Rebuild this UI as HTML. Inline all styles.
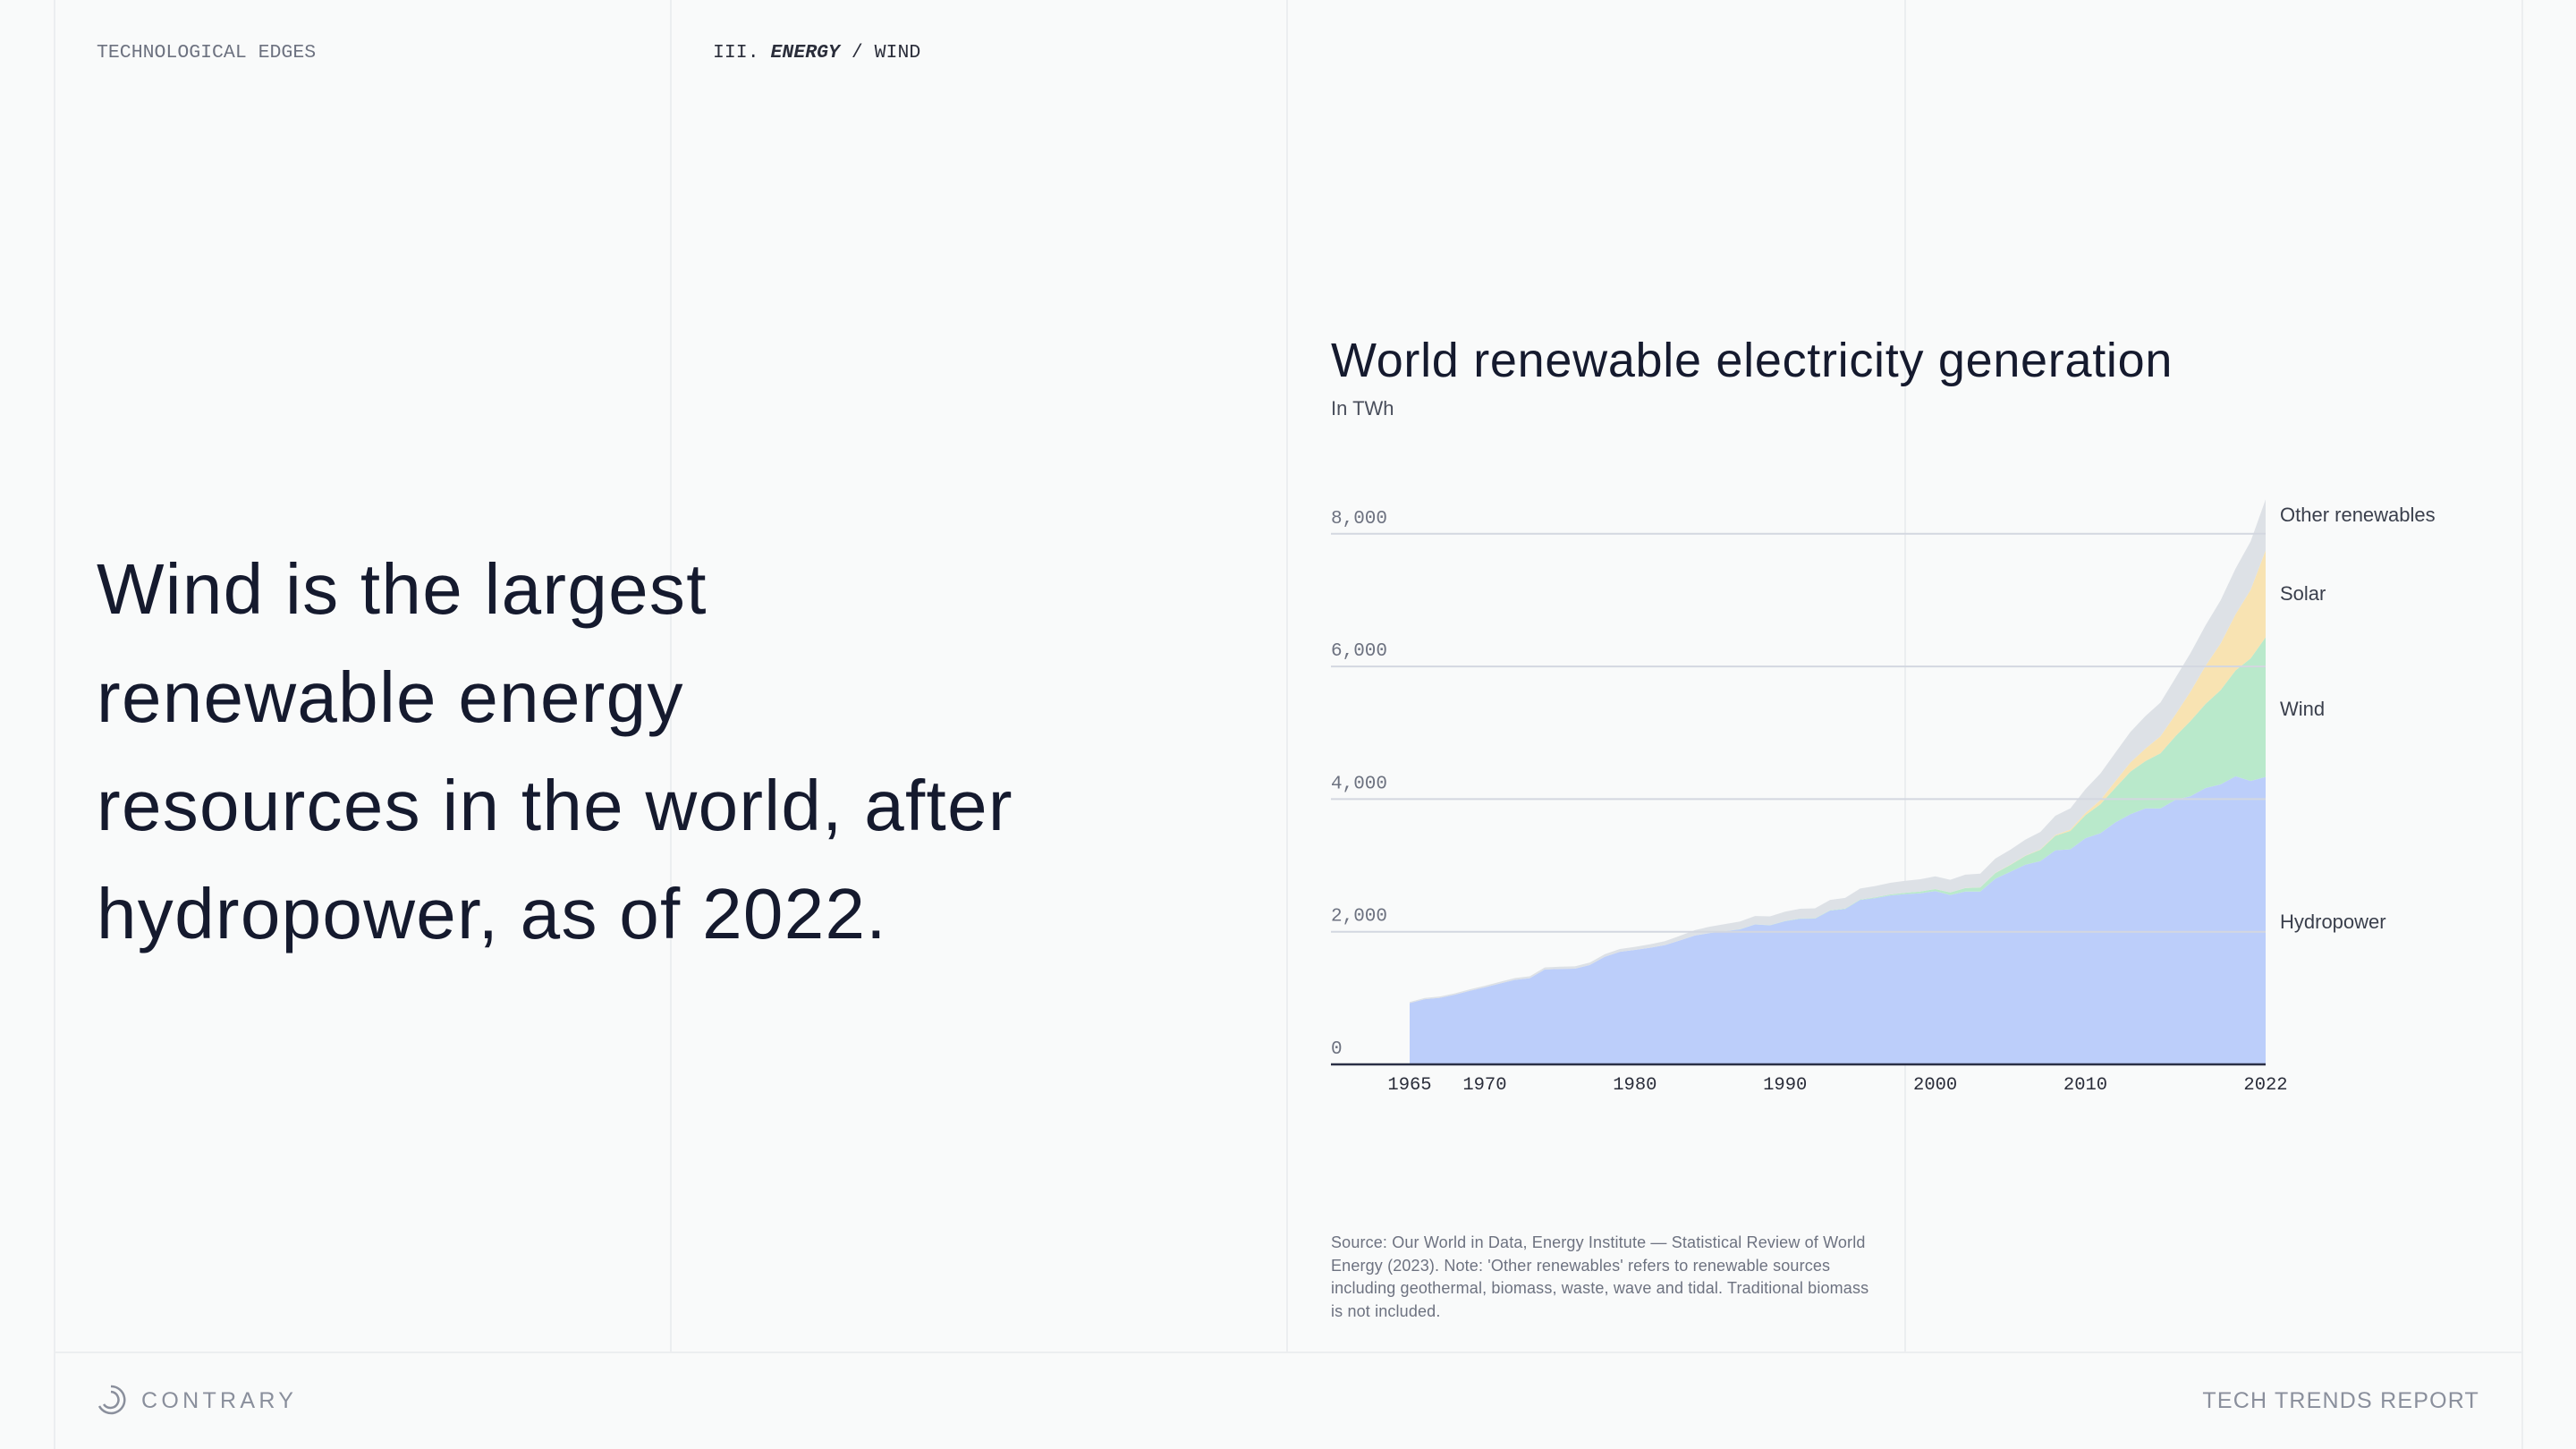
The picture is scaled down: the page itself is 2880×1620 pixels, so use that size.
<!DOCTYPE html>
<html><head><meta charset="utf-8">
<style>
html,body{margin:0;padding:0;background:#f9fafa;}
body{width:2880px;height:1620px;position:relative;overflow:hidden;font-family:"Liberation Sans",sans-serif;}
.vl{position:absolute;top:0;width:2px;background:#eceef0;}
.mono{font-family:"Liberation Mono",monospace;}
.abs{position:absolute;white-space:nowrap;}
</style></head><body>
<div class="vl" style="left:60px;height:1620px"></div>
<div class="vl" style="left:749px;height:1512px"></div>
<div class="vl" style="left:1438px;height:1512px"></div>
<div class="vl" style="left:2129px;height:1512px"></div>
<div class="vl" style="left:2819px;height:1620px"></div>
<div style="position:absolute;left:60px;width:2761px;top:1511px;height:2px;background:#eceef0"></div>

<div class="abs mono" style="left:108px;top:47px;font-size:21.5px;color:#6d7280;">TECHNOLOGICAL EDGES</div>
<div class="abs mono" style="left:797px;top:47px;font-size:21.5px;color:#2a2d3a;">III. <b><i>ENERGY</i></b> / WIND</div>

<div class="abs" style="left:108px;top:598px;font-size:80px;line-height:121px;color:#151a2e;letter-spacing:1.3px;">Wind is the largest<br>renewable energy<br>resources in the world, after<br>hydropower, as of 2022.</div>

<div class="abs" style="left:1488px;top:372px;font-size:54px;color:#151a2e;letter-spacing:0.7px;">World renewable electricity generation</div>
<div class="abs" style="left:1488px;top:444px;font-size:22px;color:#4a4f5c;">In TWh</div>

<svg id="chart" style="position:absolute;left:0;top:0" width="2880" height="1620"></svg>

<div class="abs" style="left:1488px;top:1377px;font-size:18px;line-height:25.7px;color:#6d7280;letter-spacing:0.15px;">Source: Our World in Data, Energy Institute — Statistical Review of World<br>Energy (2023). Note: 'Other renewables' refers to renewable sources<br>including geothermal, biomass, waste, wave and tidal. Traditional biomass<br>is not included.</div>

<svg class="abs" style="left:106px;top:1547px" width="36" height="36" viewBox="0 0 36 36"><path d="M18 3 A15 15 0 1 1 5 25" fill="none" stroke="#8a8f9c" stroke-width="2.5"/><path d="M18 9 A9 9 0 1 1 10 23" fill="none" stroke="#8a8f9c" stroke-width="2.5"/></svg>
<div class="abs" style="left:158px;top:1552px;font-size:25px;letter-spacing:4.3px;color:#8a8f9c;">CONTRARY</div>
<div class="abs" style="right:108px;top:1552px;font-size:25px;letter-spacing:1.2px;color:#8a8f9c;">TECH TRENDS REPORT</div>

<script>
const years=[];for(let y=1965;y<=2022;y++)years.push(y);
const hydro=[923,983,1003,1050,1109,1162,1219,1274,1299,1431,1440,1443,1499,1623,1697,1726,1758,1798,1869,1943,1981,2009,2037,2110,2097,2159,2197,2199,2319,2343,2479,2507,2548,2567,2579,2613,2554,2606,2606,2800,2904,3011,3065,3228,3244,3411,3486,3649,3773,3861,3859,3990,4044,4168,4222,4345,4273,4334];
const wind=[0,0,0,0,0,0,0,0,0,0,0,0,0,0,0,0,0,0,0,0,1,1,2,2,3,4,4,5,6,7,8,12,15,21,27,31,38,52,63,85,104,133,171,220,276,346,437,524,642,712,832,959,1134,1267,1420,1596,1848,2105];
const solar=[0,0,0,0,0,0,0,0,0,0,0,0,0,0,0,0,0,0,0,0,0,0,0,0,0,0,0,0,0,0,0,0,0,0,0,1,1,2,2,3,4,5,8,12,20,32,63,99,139,190,256,328,444,575,704,846,1033,1310];
const other=[18,19,20,21,22,23,25,27,29,31,33,35,37,39,42,45,52,60,70,82,95,105,115,125,132,140,145,150,155,160,165,170,175,180,185,190,190,200,205,215,225,240,260,290,320,360,400,430,460,490,510,550,580,610,650,690,730,770];
const seriesNames=["Hydropower","Wind","Solar","Other renewables"];
const yTicks=[0,2000,4000,6000,8000];
const xTicks=[1965,1970,1980,1990,2000,2010,2022];

const X0=1488,X1=2533,Y0=1190;
const xs=y=>1576+(y-1965)*(2533-1576)/57;
const ys=v=>Y0-v*(148.3/2000);
const svg=document.getElementById('chart');
const NS='http://www.w3.org/2000/svg';
function mk(t,a){const e=document.createElementNS(NS,t);for(const k in a)e.setAttribute(k,a[k]);svg.appendChild(e);return e;}

const series=[hydro,wind,solar,other];
const colors=['#bccefa','#b9e9cb','#f8e3b2','#dde1e6'];
const slugs=['hydropower','wind','solar','other-renewables'];
let base=years.map(()=>0);
series.forEach((s,i)=>{
  const top=base.map((b,j)=>b+s[j]);
  let d='M'+xs(years[0])+','+ys(top[0]);
  for(let j=1;j<years.length;j++)d+=' L'+xs(years[j])+','+ys(top[j]);
  for(let j=years.length-1;j>=0;j--)d+=' L'+xs(years[j])+','+ys(base[j]);
  d+='Z';
  const p=mk('path',{d:d,fill:colors[i]});
  
  
  base=top;
});
yTicks.forEach(v=>{
  if(v>0){const l=mk('line',{x1:X0,x2:X1,y1:ys(v),y2:ys(v),stroke:'#d3d7e0','stroke-width':2});
  
  }
  const t=mk('text',{x:X0,y:ys(v)-12,'font-size':21,fill:'#6d7280','font-family':'Liberation Mono, monospace'});
  t.textContent=v.toLocaleString('en-US');
  
  
});
const ax=mk('line',{x1:X0,x2:X1,y1:Y0,y2:Y0,stroke:'#2a2f45','stroke-width':2.5});


xTicks.forEach(y=>{
  const t=mk('text',{x:xs(y),y:1218,'font-size':20.5,fill:'#2a2d3a','text-anchor':'middle','font-family':'Liberation Mono, monospace'});
  t.textContent=y;
  
  
});
const labelY=[1030,792,663,575];
seriesNames.forEach((n,i)=>{
  const t=mk('text',{x:2549,y:labelY[i]+8,'font-size':22,fill:'#3a3f4c','font-family':'Liberation Sans, sans-serif'});
  t.textContent=n;
  
  
});
</script>
</body></html>
